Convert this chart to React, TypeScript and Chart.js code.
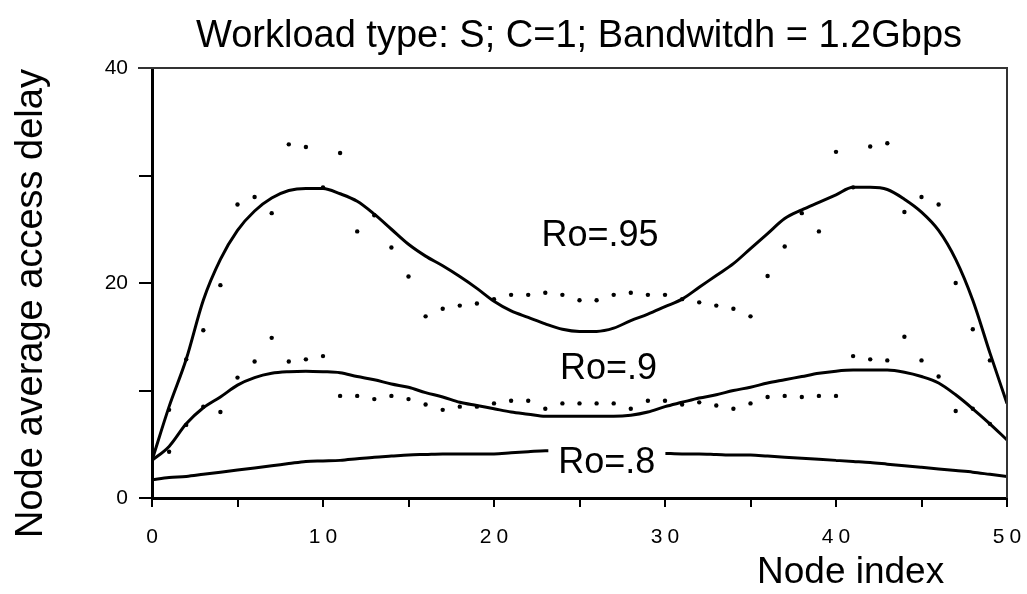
import React, { useEffect, useRef } from 'react';
import { Chart, registerables } from 'chart.js';

Chart.register(...registerables);

const FONT = '"Liberation Sans", Arial, Helvetica, sans-serif';

const nodeIndex = [0, 1, 2, 3, 4, 5, 6, 7, 8, 9, 10, 11, 12, 13, 14, 15, 16, 17, 18, 19, 20, 21, 22, 23, 24, 25, 26, 27, 28, 29, 30, 31, 32, 33, 34, 35, 36, 37, 38, 39, 40, 41, 42, 43, 44, 45, 46, 47, 48, 49, 50];

const ro95Curve = [3.5, 8.5, 12.9, 18.4, 22.2, 24.9, 26.7, 27.9, 28.6, 28.8, 28.8, 28.3, 27.6, 26.4, 25.0, 23.6, 22.5, 21.6, 20.6, 19.5, 18.3, 17.4, 16.8, 16.2, 15.7, 15.5, 15.5, 15.8, 16.5, 17.1, 17.8, 18.5, 19.6, 20.7, 21.8, 23.2, 24.6, 26.0, 26.8, 27.5, 28.2, 28.9, 28.9, 28.7, 27.8, 26.6, 24.9, 22.2, 18.4, 13.5, 8.8];

const ro90Curve = [3.5, 4.8, 6.9, 8.4, 9.4, 10.5, 11.2, 11.6, 11.75, 11.8, 11.75, 11.65, 11.3, 11.0, 10.6, 10.3, 9.8, 9.4, 8.9, 8.6, 8.3, 8.0, 7.8, 7.6, 7.6, 7.6, 7.6, 7.6, 7.7, 8.0, 8.5, 8.9, 9.3, 9.6, 10.0, 10.3, 10.7, 11.0, 11.3, 11.6, 11.8, 11.9, 11.9, 11.9, 11.7, 11.3, 10.7, 9.6, 8.3, 6.9, 5.4];

const ro80Curve = [1.7, 1.9, 2.0, 2.2, 2.4, 2.6, 2.8, 3.0, 3.2, 3.4, 3.45, 3.5, 3.65, 3.8, 3.9, 4.0, 4.05, 4.1, 4.1, 4.1, 4.1, 4.2, 4.3, 4.4, 4.4, 4.4, 4.4, 4.3, 4.2, 4.2, 4.15, 4.1, 4.1, 4.05, 4.0, 4.0, 3.9, 3.8, 3.7, 3.6, 3.5, 3.4, 3.3, 3.15, 3.0, 2.85, 2.7, 2.55, 2.4, 2.2, 2.0];

const ro95Sim = [null, 8.2, 12.9, 15.6, 19.8, 27.3, 28.0, 26.5, 32.9, 32.65, 28.9, 32.1, 24.8, 26.3, 23.3, 20.6, 16.9, 17.6, 17.9, 18.1, 18.5, 18.9, 18.9, 19.1, 18.9, 18.4, 18.4, 18.9, 19.1, 18.9, 18.9, 18.5, 18.2, 17.9, 17.6, 16.9, 20.65, 23.4, 26.5, 24.8, 32.2, 28.9, 32.7, 33.0, 26.6, 28.0, 27.3, 20.0, 15.7, 12.8, null];

const ro90Sim = [null, 4.3, 6.8, 8.5, 8.0, 11.2, 12.7, 14.9, 12.7, 12.9, 13.2, 9.5, 9.5, 9.2, 9.5, 9.2, 8.7, 8.2, 8.5, 8.5, 8.8, 9.05, 9.05, 8.3, 8.8, 8.8, 8.8, 8.8, 8.3, 9.05, 9.05, 8.7, 8.9, 8.6, 8.3, 8.8, 9.4, 9.5, 9.4, 9.5, 9.5, 13.2, 12.9, 12.8, 15.0, 12.8, 11.3, 8.1, 8.3, 6.9, null];

const xTickValues = [0, 10, 20, 30, 40, 50];
const yTickValues = [0, 20, 40];

const titleText = 'Workload type: S; C=1; Bandwitdh = 1.2Gbps';
const xTitleText = 'Node index';
const yTitleText = 'Node average access delay';

const curveLabels = [
  { text: 'Ro=.95', x: 26.2, y: 23.4, knockout: false },
  { text: 'Ro=.9', x: 26.7, y: 11.05, knockout: false },
  { text: 'Ro=.8', x: 26.6, y: 2.3, knockout: true },
];

const toPoints = (arr: (number | null)[]) => nodeIndex.map((x, i) => ({ x, y: arr[i] }));

const decorPlugin = {
  id: 'decor',
  afterDraw(chart: any) {
    const { ctx, chartArea: ca } = chart;
    const xs = chart.scales.x;
    const ys = chart.scales.y;
    ctx.save();
    ctx.strokeStyle = '#333';
    ctx.lineWidth = 2;
    ctx.beginPath();
    ctx.moveTo(ca.left - 14, ca.top);
    ctx.lineTo(ca.right, ca.top);
    ctx.lineTo(ca.right, ca.bottom);
    ctx.stroke();

    ctx.font = `36px ${FONT}`;
    ctx.textAlign = 'center';
    ctx.textBaseline = 'alphabetic';
    for (const l of curveLabels) {
      const px = xs.getPixelForValue(l.x);
      const py = ys.getPixelForValue(l.y);
      if (l.knockout) {
        const w = ctx.measureText(l.text).width;
        ctx.fillStyle = '#fff';
        ctx.fillRect(px - w / 2 - 10, py - 30, w + 20, 36);
      }
      ctx.fillStyle = '#000';
      ctx.fillText(l.text, px, py);
    }

    ctx.font = `21px ${FONT}`;
    (ctx as any).letterSpacing = '5px';
    ctx.textBaseline = 'middle';
    for (const v of xTickValues) {
      ctx.fillText(String(v), xs.getPixelForValue(v) + 2.5, ca.bottom + 39);
    }
    (ctx as any).letterSpacing = '0px';

    ctx.font = `38px ${FONT}`;
    ctx.textBaseline = 'alphabetic';
    ctx.textAlign = 'left';
    ctx.fillText(titleText, 196, 47);

    ctx.font = `37px ${FONT}`;
    ctx.textAlign = 'left';
    ctx.fillText(xTitleText, 757, 583);

    ctx.font = `38px ${FONT}`;
    ctx.translate(42, 538);
    ctx.rotate(-Math.PI / 2);
    ctx.textAlign = 'left';
    ctx.fillText(yTitleText, 0, 0);
    ctx.restore();
  },
};

export default function App() {
  const canvasRef = useRef<HTMLCanvasElement | null>(null);

  useEffect(() => {
    if (!canvasRef.current) return;
    const lineDs = (label: string, arr: number[]) => ({
      label,
      data: toPoints(arr),
      borderColor: '#000',
      borderWidth: 3,
      pointRadius: 0,
      fill: false,
      cubicInterpolationMode: 'monotone' as const,
    });
    const dotDs = (label: string, arr: (number | null)[]) => ({
      label,
      data: toPoints(arr),
      showLine: false,
      pointRadius: 2.2,
      pointBackgroundColor: '#000',
      pointBorderWidth: 0,
      borderColor: '#000',
    });
    const chart = new Chart(canvasRef.current, {
      type: 'line',
      data: {
        datasets: [
          lineDs('Ro=.95', ro95Curve),
          lineDs('Ro=.9', ro90Curve),
          lineDs('Ro=.8', ro80Curve),
          dotDs('Ro=.95 sim', ro95Sim),
          dotDs('Ro=.9 sim', ro90Sim),
        ],
      },
      options: {
        animation: false,
        responsive: true,
        maintainAspectRatio: false,
        layout: { padding: { top: 68, right: 20, left: 0, bottom: 0 } },
        plugins: { legend: { display: false }, tooltip: { enabled: false }, title: { display: false } },
        scales: {
          x: {
            type: 'linear',
            min: 0,
            max: 50,
            ticks: { stepSize: 5, display: false },
            grid: { display: true, drawOnChartArea: false, drawTicks: true, tickLength: 9, color: '#000', lineWidth: 2 },
            border: { display: true, color: '#000', width: 3 },
            afterFit: (s: any) => { s.height = 96; },
          },
          y: {
            type: 'linear',
            min: 0,
            max: 40,
            ticks: {
              stepSize: 10,
              color: '#000',
              padding: 11,
              font: { size: 21, family: FONT },
              callback: (v: any) => (yTickValues.includes(Number(v)) ? String(v) : ''),
            },
            grid: { display: true, drawOnChartArea: false, drawTicks: true, tickLength: 13, color: '#000', lineWidth: 2 },
            border: { display: true, color: '#000', width: 3 },
            afterFit: (s: any) => { s.width = 152; },
          },
        },
      },
      plugins: [decorPlugin],
    });
    return () => chart.destroy();
  }, []);

  return (
    <div style={{ position: 'absolute', left: 0, top: 0, width: 1027, height: 594, background: '#fff' }}>
      <canvas ref={canvasRef} />
    </div>
  );
}
